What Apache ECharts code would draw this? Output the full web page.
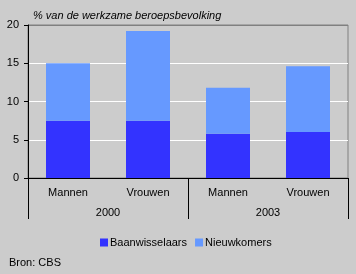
<!DOCTYPE html>
<html><head><meta charset="utf-8">
<script src="https://cdn.jsdelivr.net/npm/echarts@6/dist/echarts.min.js"></script>
<style>html,body{margin:0;padding:0;background:#cccccc}#c{width:356px;height:274px}</style>
</head><body><div id="c"></div>
<script>
const categories = ['Mannen', 'Vrouwen', 'Mannen', 'Vrouwen'];
const groups = ['2000', '2003'];
const baanwisselaars = [7.5, 7.5, 5.8, 6.0];
const nieuwkomers = [7.5, 11.7, 6.0, 8.6];
const yTicks = [0, 5, 10, 15, 20];
const FONT = 'Liberation Sans';
const chart = echarts.init(document.getElementById('c'));
chart.setOption({
  backgroundColor: '#cccccc',
  animation: false,
  textStyle: { fontFamily: FONT },
  title: [
    { text: '% van de werkzame beroepsbevolking', left: 28, top: 5,
      textStyle: { fontFamily: FONT, fontSize: 11, fontStyle: 'italic', fontWeight: 'normal', color: '#000' } },
    { text: 'Bron: CBS', left: 4, top: 252,
      textStyle: { fontFamily: FONT, fontSize: 11, fontWeight: 'normal', color: '#000' } }
  ],
  legend: {
    left: 95, top: 232, itemWidth: 8, itemHeight: 8, itemGap: 8, icon: 'rect',
    textStyle: { fontFamily: FONT, fontSize: 11, color: '#000', padding: [0, 0, 0, -3] },
    data: ['Baanwisselaars', 'Nieuwkomers']
  },
  grid: { left: 28, right: 8, top: 25, bottom: 96, show: true, borderColor: '#808080', borderWidth: 1, backgroundColor: 'transparent' },
  xAxis: [
    { type: 'category', data: categories, position: 'bottom',
      axisLine: { show: true, lineStyle: { color: '#000' } },
      axisTick: { show: false },
      axisLabel: { color: '#000', fontSize: 11, fontFamily: FONT, margin: 9 } },
    { type: 'category', data: groups, position: 'bottom',
      axisLine: { show: false },
      axisTick: { show: true, length: 41, lineStyle: { color: '#000' } },
      axisLabel: { color: '#000', fontSize: 11, fontFamily: FONT, margin: 29 } }
  ],
  yAxis: {
    type: 'value', min: 0, max: 20, interval: 5,
    axisLine: { show: true, lineStyle: { color: '#000' } },
    axisTick: { show: true, length: 4, lineStyle: { color: '#000' } },
    axisLabel: { color: '#000', fontSize: 11, fontFamily: FONT, margin: 9,
      formatter: v => yTicks.includes(v) ? String(v) : '' },
    splitLine: { show: true, lineStyle: { color: ['#000', '#ffffff', '#ffffff', '#ffffff', '#808080'], width: 1 } }
  },
  series: [
    { name: 'Baanwisselaars', type: 'bar', stack: 't', data: baanwisselaars, barWidth: 44,
      itemStyle: { color: '#3333ff' } },
    { name: 'Nieuwkomers', type: 'bar', stack: 't', data: nieuwkomers, barWidth: 44,
      itemStyle: { color: '#6699ff' } }
  ]
});
</script></body></html>
